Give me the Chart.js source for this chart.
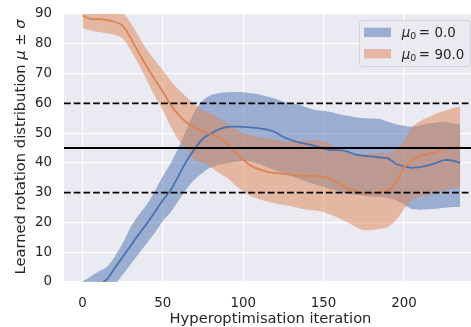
<!DOCTYPE html>
<html>
<head>
<meta charset="utf-8">
<script src="https://cdn.jsdelivr.net/npm/chart.js@4.4.0/dist/chart.umd.min.js"></script>
<style>
  html, body { margin: 0; padding: 0; background: #fff; }
  canvas { display: block; }
</style>
</head>
<body>
<canvas id="chart" width="471" height="327"></canvas>
<script>
// hyperoptimisation iterations (sampled every 5)
const iterations = [0, 5, 10, 15, 20, 25, 30, 35, 40, 45, 50, 55, 60, 65, 70, 75, 80, 85, 90, 95,
    100, 105, 110, 115, 120, 125, 130, 135, 140, 145, 150, 155, 160, 165, 170, 175, 180, 185, 190, 195,
    200, 205, 210, 215, 220, 225, 230, 235];

// mu0 = 0.0
const blueMean = [-3, -2, -1, 0.8, 4.6, 8.4, 12.2, 16, 19.6, 23.5, 27.5, 31, 35.9, 40.9, 44.8, 48.2, 49.9, 51.3, 52.1, 52.2,
    52.1, 51.9, 51.6, 51.2, 50.3, 48.7, 47.6, 46.8, 46.3, 45.6, 44.8, 44.3, 44.3, 43.8, 42.8, 42.4, 42.2, 41.8, 41.5, 39.7,
    38.8, 38.3, 38.6, 39.2, 40, 40.9, 40.8, 40];
const blueUpper = [0.2, 1.8, 3.5, 5, 8.5, 13, 18.5, 22.5, 26, 30.5, 35.5, 40, 45.5, 51.5, 57.5, 61, 62.8, 63.4, 63.7, 63.8,
    63.7, 63.4, 63, 62.3, 61.5, 60.5, 60, 59.5, 58.5, 57.8, 57.5, 57, 56.3, 55.8, 55.3, 55, 54.9, 54.7, 53.8, 53,
    52.5, 52.1, 52.6, 53.2, 53.6, 53.8, 53.3, 53];
const blueLower = [-5, -4.5, -3.5, -2.5, -1, 2.5, 6, 9.5, 13, 16.5, 20.5, 23.5, 27.5, 31.5, 34.5, 36.8, 38.5, 39.4, 39.9, 40.3,
    40.6, 40.4, 39.6, 38.5, 37.5, 36.5, 35.6, 34.6, 33.6, 32.7, 31.9, 31.1, 30.4, 29.8, 29.3, 29, 28.7, 28.6, 28.2, 27.5,
    26, 24.5, 24.3, 24.4, 24.6, 24.9, 25.2, 25.2];

// mu0 = 90.0
const orangeMean = [89.5, 88.3, 88.3, 88, 87.4, 86, 81.9, 77, 72.3, 68, 63.9, 59.4, 56, 53.5, 51.8, 50.5, 49.5, 48.5, 46.5, 43.5,
    41, 39, 37.8, 37, 36.6, 36.3, 36, 35.7, 35.6, 35.6, 35.4, 34.5, 33, 31.5, 30.5, 29.7, 29.9, 30.2, 30.6, 33.5,
    38.5, 41, 42.2, 43, 43.8, 44.6, 45.2, 45.6];
const orangeUpper = [93, 92.5, 92.5, 92.3, 91.8, 90.5, 87, 82.5, 78, 74.5, 71.2, 67.5, 64.5, 62, 59.5, 57.5, 56.5, 55, 53.4, 51.5,
    50, 49.2, 48.6, 48.2, 47.8, 47.3, 47.2, 47.4, 47.6, 47.6, 47.2, 46, 44.5, 43.5, 43, 43, 43.3, 43.3, 43.3, 44.3,
    47.5, 52, 54, 55.3, 56.5, 57.5, 58.3, 59];
const orangeLower = [85.2, 84.5, 84, 83.5, 83, 81.8, 77.9, 73, 67.8, 62.5, 57.7, 52.1, 47.5, 44.5, 41, 40, 38.5, 36.5, 35, 32.5,
    30.5, 28.8, 27.8, 27, 26.4, 25.9, 25.4, 24.8, 24.3, 24, 23.5, 22.5, 21.3, 20, 18.5, 17.4, 17.5, 17.9, 18.5, 20.7,
    24.5, 27.5, 28.6, 29.2, 30, 30.8, 31.4, 31.8];

const refLevels = [60, 45, 30];
const refDashed = [true, false, true];
const xTicks = [0, 50, 100, 150, 200];
const yTicks = [0, 10, 20, 30, 40, 50, 60, 70, 80, 90];
const legendValues = ['0.0', '90.0'];

const BLUE = '#4C72B0';
const ORANGE = '#DD8452';
const BLUE_BAND = 'rgba(76,114,176,0.5)';
const ORANGE_BAND = 'rgba(221,132,82,0.5)';
const TEXT = '#262626';
const FONT = '"DejaVu Sans"';
const X_MIN = -11.5, X_MAX = 241.7;

const pts = arr => iterations.map((t, i) => ({ x: t, y: arr[i] }));

function band(arr, color, fill, order) {
    return { data: pts(arr), borderWidth: 0, pointRadius: 0, fill, backgroundColor: color, order, tension: 0.3 };
}

function meanLine(arr, color, order) {
    return { data: pts(arr), borderColor: color, borderWidth: 1.8, pointRadius: 0, fill: false, order, tension: 0.3 };
}

const refSets = refLevels.map((lv, i) => ({
    data: [{ x: X_MIN, y: lv }, { x: X_MAX, y: lv }],
    borderColor: '#000',
    borderWidth: 1.8,
    borderDash: refDashed[i] ? [6.8, 2.9] : [],
    pointRadius: 0,
    fill: false,
    order: 1,
}));

const bgPlugin = {
    id: 'bg',
    beforeDraw(chart) {
        const { ctx, chartArea: a } = chart;
        ctx.save();
        ctx.fillStyle = '#EAEAF2';
        ctx.fillRect(a.left, a.top, a.right - a.left, a.bottom - a.top);
        ctx.restore();
    },
};

function drawPieces(ctx, pieces, x, y) {
    for (const [txt, font] of pieces) {
        ctx.font = font;
        ctx.fillText(txt, x, y);
        x += ctx.measureText(txt).width;
    }
}

const labelsPlugin = {
    id: 'labels',
    afterDraw(chart) {
        const { ctx } = chart;
        ctx.save();
        ctx.fillStyle = TEXT;
        ctx.textBaseline = 'alphabetic';

        // x title
        ctx.font = '14.7px ' + FONT;
        ctx.textAlign = 'center';
        ctx.fillText('Hyperoptimisation iteration', 270.5, 323.3);

        // y title with italic mu / sigma
        ctx.textAlign = 'left';
        const reg = '14.7px ' + FONT, ita = 'italic 14.7px ' + FONT;
        const pieces = [['Learned rotation distribution ', reg], ['\u03bc', ita], [' \u00b1 ', reg], ['\u03c3', ita]];
        let w = 0;
        for (const [t, f] of pieces) { ctx.font = f; w += ctx.measureText(t).width; }
        ctx.save();
        ctx.translate(25, 147);
        ctx.rotate(-Math.PI / 2);
        drawPieces(ctx, pieces, -w / 2, 0);
        ctx.restore();

        // legend
        ctx.beginPath();
        ctx.roundRect(359.5, 20.5, 111, 46, 3);
        ctx.fillStyle = 'rgba(234,234,242,0.8)';
        ctx.fill();
        ctx.strokeStyle = 'rgba(204,204,204,0.8)';
        ctx.lineWidth = 1;
        ctx.stroke();

        const colors = [BLUE_BAND, ORANGE_BAND];
        legendValues.forEach((val, i) => {
            const cy = 32.4 + i * 21.3;
            ctx.fillStyle = colors[i];
            ctx.fillRect(364, cy - 4.7, 27, 9.4);
            ctx.fillStyle = TEXT;
            const base = cy + 4.8;
            ctx.font = 'italic 13.4px ' + FONT;
            ctx.fillText('\u03bc', 401.7, base);
            const mw = ctx.measureText('\u03bc').width;
            ctx.font = '9.4px ' + FONT;
            ctx.fillText('0', 401.7 + mw, base + 2.2);
            ctx.font = '13.4px ' + FONT;
            ctx.fillText('=', 418.7, base);
            ctx.fillText(val, 434.5, base);
        });
        ctx.restore();
    },
};

new Chart(document.getElementById('chart'), {
    type: 'line',
    data: {
        datasets: [
            band(blueLower, BLUE_BAND, false, 12),
            band(blueUpper, BLUE_BAND, '-1', 11),
            band(orangeLower, ORANGE_BAND, false, 10),
            band(orangeUpper, ORANGE_BAND, '-1', 9),
            meanLine(blueMean, BLUE, 5),
            meanLine(orangeMean, ORANGE, 4),
            ...refSets,
        ],
    },
    options: {
        responsive: false,
        devicePixelRatio: 1,
        animation: false,
        layout: { padding: { top: 14, left: 0, right: 0, bottom: 0 } },
        plugins: { legend: { display: false }, tooltip: { enabled: false } },
        scales: {
            x: {
                type: 'linear', min: X_MIN, max: X_MAX,
                grid: { color: '#fff', lineWidth: 1.2, drawTicks: false },
                border: { display: false },
                ticks: { font: { family: 'DejaVu Sans', size: 13.4 }, color: TEXT, padding: 13 },
                afterBuildTicks: s => { s.ticks = xTicks.map(v => ({ value: v })); },
                afterFit: s => { s.height = 45; s.paddingLeft = 0; s.paddingRight = 0; },
            },
            y: {
                min: 0, max: 90,
                grid: { color: '#fff', lineWidth: 1.2, drawTicks: false },
                border: { display: false },
                ticks: { font: { family: 'DejaVu Sans', size: 13.4 }, color: TEXT, padding: 12 },
                afterBuildTicks: s => { s.ticks = yTicks.map(v => ({ value: v })); },
                afterFit: s => { s.width = 64; s.paddingTop = 0; s.paddingBottom = 0; },
            },
        },
    },
    plugins: [bgPlugin, labelsPlugin],
});
</script>
</body>
</html>
